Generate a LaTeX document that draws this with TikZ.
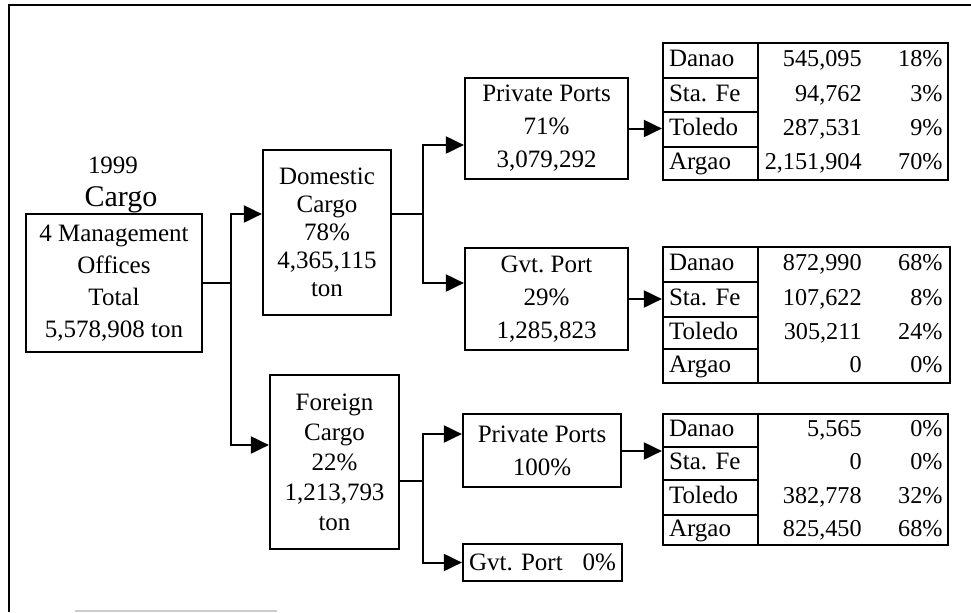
\documentclass[tikz,border=0pt]{standalone}
\usepackage{fontspec}
\setmainfont{Liberation Serif}
\usetikzlibrary{arrows.meta}
\frenchspacing
\begin{document}
\begin{tikzpicture}[x=0.5pt,y=-0.5pt,
  every node/.style={font=\fontsize{12.5}{15}\selectfont},
  box/.style={draw, line width=1.1pt, inner sep=0pt, align=center},
  cell/.style={draw, line width=1.1pt, inner xsep=3pt, inner ysep=0pt, minimum width=47.5pt, text width=41.5pt, align=left, text height=8.6pt, text depth=2.6pt},
  numbox/.style={draw, line width=1.1pt, minimum width=95pt, inner sep=0pt},
  val/.style={anchor=east, inner sep=0pt, text height=8.6pt, text depth=2.6pt, font=\fontsize{12.1}{15}\selectfont},
  link/.style={line width=1pt},
  arr/.style={line width=1pt, -{Triangle[length=9pt,width=8.5pt]}},
  frame/.style={line width=1.4pt}
]
\useasboundingbox (0,0) rectangle (971,612);
% frame
\coordinate (fa) at (9,612);
\coordinate (fb) at (9,5);
\coordinate (fc) at (971,5);
\draw[frame] (fa) -- (fb) -- (fc);
\coordinate (ga) at (75,611);
\coordinate (gb) at (277,611);
\draw[line width=1pt, black!20] (ga) -- (gb);

% title
\node[anchor=base, inner sep=0pt] (year) at (113,173) {1999};
\node[anchor=base, inner sep=0pt, font=\fontsize{15}{18}\selectfont] (title) at (121,206) {Cargo};

% boxes
\node[box, minimum width=88pt, minimum height=69pt, font=\fontsize{12.5}{16}\selectfont] (root) at (114,283)
  {4 Management\\Offices\\Total\\5,578,908 ton};
\node[box, minimum width=64pt, minimum height=82.5pt, font=\fontsize{12.5}{14}\selectfont] (dom) at (327,232.5)
  {Domestic\\Cargo\\78\%\\4,365,115\\ton};
\node[box, minimum width=64.5pt, minimum height=87pt, font=\fontsize{12.5}{15}\selectfont] (for) at (334.5,462)
  {Foreign\\Cargo\\22\%\\1,213,793\\ton};
\node[box, minimum width=81.5pt, minimum height=50.5pt, font=\fontsize{12.5}{16.5}\selectfont] (pp1) at (546.5,128.5)
  {Private Ports\\71\%\\3,079,292};
\node[box, minimum width=81.5pt, minimum height=51pt, font=\fontsize{12.5}{16.5}\selectfont] (gv1) at (546.5,299)
  {Gvt. Port\\29\%\\1,285,823};
\node[box, minimum width=79pt, minimum height=36.5pt, font=\fontsize{12.5}{16.5}\selectfont] (pp2) at (542,450.5)
  {Private Ports\\100\%};
\node[draw, line width=1.1pt, inner xsep=3pt, inner ysep=0pt, minimum width=79.5pt, minimum height=18.5pt, text width=73.5pt] (gv2) at (542.5,562.5)
  {Gvt. Port\hfill 0\%};

% table 1
\node[cell, minimum height=17.5pt] (t1a) at (710.5,60.5) {Danao};
\node[cell, minimum height=17pt] (t1b) at (710.5,95) {Sta. Fe};
\node[cell, minimum height=17.5pt] (t1c) at (710.5,129.5) {Toledo};
\node[cell, minimum height=16.5pt] (t1d) at (710.5,163.5) {Argao};
\node[numbox, minimum height=68.5pt] (t1n) at (853,111.5) {};
\node[val] (t1a1) at (862,60.5) {545,095};
\node[val] (t1a2) at (943,60.5) {18\%};
\node[val] (t1b1) at (862,95) {94,762};
\node[val] (t1b2) at (943,95) {3\%};
\node[val] (t1c1) at (862,129.5) {287,531};
\node[val] (t1c2) at (943,129.5) {9\%};
\node[val] (t1d1) at (862,163.5) {2,151,904};
\node[val] (t1d2) at (943,163.5) {70\%};

% table 2
\node[cell, minimum height=17.5pt] (t2a) at (710.5,264.5) {Danao};
\node[cell, minimum height=17.5pt] (t2b) at (710.5,299.5) {Sta. Fe};
\node[cell, minimum height=16pt] (t2c) at (710.5,333) {Toledo};
\node[cell, minimum height=17pt] (t2d) at (710.5,366) {Argao};
\node[numbox, minimum width=96pt, minimum height=68pt] (t2n) at (854,315) {};
\node[val] (t2a1) at (862,264.5) {872,990};
\node[val] (t2a2) at (943,264.5) {68\%};
\node[val] (t2b1) at (862,299.5) {107,622};
\node[val] (t2b2) at (943,299.5) {8\%};
\node[val] (t2c1) at (862,333) {305,211};
\node[val] (t2c2) at (943,333) {24\%};
\node[val] (t2d1) at (862,366) {0};
\node[val] (t2d2) at (943,366) {0\%};

% table 3
\node[cell, minimum height=16.5pt] (t3a) at (710.5,430.5) {Danao};
\node[cell, minimum height=16.5pt] (t3b) at (710.5,463.5) {Sta. Fe};
\node[cell, minimum height=17.5pt] (t3c) at (710.5,497.5) {Toledo};
\node[cell, minimum height=15pt] (t3d) at (710.5,530) {Argao};
\node[numbox, minimum height=65.5pt] (t3n) at (853,479.5) {};
\node[val] (t3a1) at (862,430.5) {5,565};
\node[val] (t3a2) at (943,430.5) {0\%};
\node[val] (t3b1) at (862,463.5) {0};
\node[val] (t3b2) at (943,463.5) {0\%};
\node[val] (t3c1) at (862,497.5) {382,778};
\node[val] (t3c2) at (943,497.5) {32\%};
\node[val] (t3d1) at (862,530) {825,450};
\node[val] (t3d2) at (943,530) {68\%};

% connectors
\coordinate (y214) at (0,214);
\coordinate (y445) at (0,445);
\coordinate (y145) at (0,145);
\coordinate (y283) at (0,283);
\coordinate (y481) at (0,481);
\coordinate (y434) at (0,434);
\coordinate (y451) at (0,451);
\coordinate (j1) at (231,283);
\coordinate (j2) at (423,214);
\coordinate (j3) at (423,481);

\draw[link] (root.east) -- (j1);
\draw[arr] (j1) |- (dom.west |- y214);
\draw[arr] (j1) |- (for.west |- y445);

\draw[link] (dom.east |- y214) -- (j2);
\draw[arr] (j2) |- (pp1.west |- y145);
\draw[arr] (j2) |- (gv1.west |- y283);

\draw[link] (for.east |- y481) -- (j3);
\draw[arr] (j3) |- (pp2.west |- y434);
\draw[arr] (j3) |- (gv2.west);

\draw[arr] (pp1.east) -- (pp1.east -| t1c.west);
\draw[arr] (gv1.east) -- (gv1.east -| t2b.west);
\draw[arr] (pp2.east |- y451) -- (t3b.west |- y451);
\end{tikzpicture}
\end{document}
